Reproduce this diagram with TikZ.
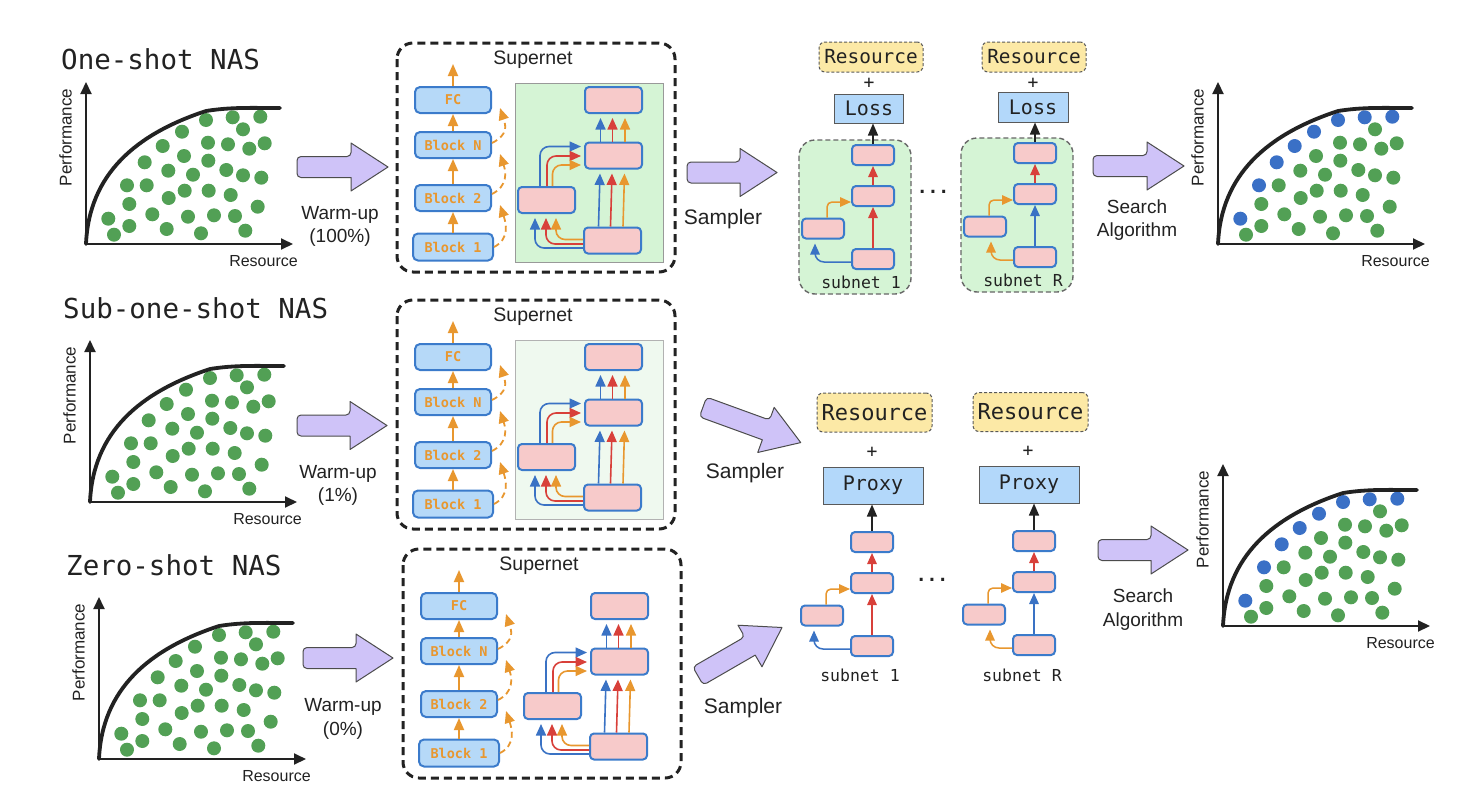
\documentclass[tikz,border=0pt]{standalone}
\usepackage{fontspec}
\setmainfont{Liberation Sans}
\newfontfamily\monofont{DejaVu Sans Mono}
\usetikzlibrary{arrows.meta,calc}
\definecolor{dotgreen}{HTML}{52A055}
\definecolor{dotblue}{HTML}{3A70C6}
\definecolor{arrowpurple}{HTML}{CFC3F8}
\definecolor{blockblue}{HTML}{B6D9F8}
\definecolor{edgeblue}{HTML}{3B7BCB}
\definecolor{orng}{HTML}{E8972F}
\definecolor{redc}{HTML}{D8403A}
\definecolor{bluec}{HTML}{3A72C4}
\definecolor{pinkc}{HTML}{F7CACA}
\definecolor{panelgreen}{HTML}{D5F4D5}
\definecolor{panellight}{HTML}{EFF9EF}
\definecolor{yellowc}{HTML}{FCE9A6}
\definecolor{lossblue}{HTML}{B3D8FA}
\definecolor{ink}{HTML}{222222}
\tikzset{
  axisarr/.style={draw=ink,line width=2pt,-{Triangle[length=12pt,width=11pt]}},
  frontier/.style={draw=ink,line width=3.8pt,line cap=round},
  perf/.style={font=\fontsize{17}{20}\selectfont,text=ink,inner sep=0pt},
  resl/.style={font=\fontsize{16}{19}\selectfont,text=ink,inner sep=0pt},
  titletext/.style={font=\monofont\fontsize{27.5}{32}\selectfont,text=ink,inner sep=0pt},
  bigarr/.style={fill=arrowpurple,draw=black!70,line width=1pt,line join=round},
  captxt/.style={font=\fontsize{19}{23.5}\selectfont,align=center,text=ink,inner sep=0pt},
  samp/.style={font=\fontsize{21}{25}\selectfont,text=ink,inner sep=0pt},
  superbox/.style={draw=ink,line width=3pt,dash pattern=on 8pt off 5pt,rounded corners=16pt},
  suplabel/.style={font=\fontsize{19.5}{23}\selectfont,text=ink,inner sep=0pt},
  blk/.style={draw=edgeblue,fill=blockblue,line width=2pt,rounded corners=5pt,minimum width=76pt,minimum height=26pt,inner sep=0pt,font=\monofont\bfseries\fontsize{13.5}{15}\selectfont,text=orng},
  oarr/.style={draw=orng,line width=1.8pt,-{Triangle[length=12pt,width=10pt]}},
  odash/.style={oarr,dash pattern=on 6pt off 4pt},
  pcell/.style={draw=edgeblue,fill=pinkc,line width=2pt,rounded corners=4pt,minimum width=57pt,minimum height=26pt,inner sep=0pt},
  carr/.style={draw=#1,line width=1.6pt,-{Triangle[length=11.5pt,width=10pt]}},
  scell/.style={pcell,minimum width=42pt,minimum height=20pt},
  sarr/.style={draw=#1,line width=1.5pt,-{Triangle[length=11pt,width=9.5pt]}},
  subpanel/.style={fill=panelgreen,draw=black!60,line width=1.4pt,dash pattern=on 5pt off 3pt,rounded corners=16pt},
  resbox/.style={fill=yellowc,draw=black!65,dash pattern=on 3pt off 2pt,line width=1pt,rounded corners=6pt,inner sep=0pt,minimum width=104pt,minimum height=30pt,font=\monofont\fontsize{19.4}{22}\selectfont,text=ink},
  resbig/.style={resbox,minimum width=115pt,minimum height=39pt,font=\monofont\fontsize{22}{25}\selectfont},
  lossbox/.style={fill=lossblue,draw=black!65,line width=1pt,inner sep=0pt,font=\monofont\fontsize{20}{24}\selectfont,text=ink},
  plustxt/.style={font=\monofont\fontsize{18}{20}\selectfont,inner sep=0pt,text=ink},
  sublabel/.style={font=\monofont\fontsize{16.5}{19}\selectfont,inner sep=0pt,text=ink},
  karr/.style={draw=ink,line width=1.5pt,-{Triangle[length=12pt,width=10pt]}},
  dotstxt/.style={font=\monofont\bfseries\fontsize{18}{20}\selectfont,inner sep=0pt,text=ink}
}
% chart: name, x, y, colour of the front dots
\newcommand\Chart[4]{%
\begin{scope}[shift={(#2,#3)}]
  \coordinate (#1o) at (0,0);
  \coordinate (#1y) at (0,-162);
  \coordinate (#1x) at (207,0);
  \foreach \a/\b in {157/-114.7,122/-101.3,142/-99.7,163.3/-95.3,178.7/-100.7,98/-88,122.3/-83.3,82.3/-73.3,107/-69.3,140.3/-74,157/-68.7,175.3/-66.3,60.7/-58.7,98.7/-53.3,122.7/-53.3,82.7/-46,144.7/-49,43.3/-40,171.7/-37.3,66.3/-29.7,102/-27.3,128/-28.7,149/-28,43.3/-18,80.7/-15,28/-9.3,115/-10.7,159.3/-13.3}
    {\fill[dotgreen] (\a,\b) circle (7pt);}
  \foreach \a/\b in {22.3/-25.3,41/-58.7,58.7/-81.7,76.7/-98,96/-112.3,120/-124,146.7/-126.7,174.3/-127.3}
    {\fill[#4] (\a,\b) circle (7pt);}
  \draw[frontier] (#1o) .. controls (3,-70) and (50,-110) .. (120,-133) .. controls (145,-137) and (165,-136) .. (194,-136);
  \draw[axisarr] (#1o) -- (#1y);
  \draw[axisarr] (#1o) -- (#1x);
  \node[perf,rotate=90] (#1p) at (-20.5,-106.5) {Performance};
  \node[resl] (#1r) at (177.5,17) {Resource};
\end{scope}}
% big block arrow: name, x, y, rotation, length
\newcommand\BigArrow[5]{%
\begin{scope}[shift={(#2,#3)},rotate=#4]
  \coordinate (#1) at (0,0);
  \draw[bigarr] ({#5-37},-10.5) -- ({#5-37},-24) -- (#5,0) -- ({#5-37},24) -- ({#5-37},10.5)
     [rounded corners=4pt] -- (0,10.5) -- (0,-10.5) -- cycle;
\end{scope}}
% supernet: prefix, dx, dy, panel style
\newcommand\SuperNet[4]{%
\begin{scope}[shift={(#2,#3)}]
  \draw[superbox] (397,43) rectangle (675,272);
  \node[suplabel] (#1lab) at (533,60) {Supernet};
  \path[#4] (515,83) rectangle (663,262);
  \node[blk,minimum width=80pt,minimum height=27pt] (#1b1) at (453,247) {Block 1};
  \node[blk] (#1b2) at (453,198) {Block 2};
  \node[blk] (#1bn) at (453,145) {Block N};
  \node[blk] (#1fc) at (453,100) {FC};
  \coordinate (#1out) at (453,64);
  \draw[oarr] (#1b1) -- (#1b2);
  \draw[oarr] (#1b2) -- (#1bn);
  \draw[oarr] (#1bn) -- (#1fc);
  \draw[oarr] (#1fc) -- (#1out);
  \draw[odash] (#1b1.east) .. controls +(16,-8) and +(6,18) .. ($(#1b2.east)+(8,7)$);
  \draw[odash] ($(#1b2.east)+(0,-4)$) .. controls +(16,-8) and +(6,18) .. ($(#1bn.east)+(8,9)$);
  \draw[odash] ($(#1bn.east)+(0,-2)$) .. controls +(16,-8) and +(6,18) .. ($(#1fc.east)+(8,8)$);
  \node[pcell] (#1T) at (613.5,100) {};
  \node[pcell] (#1M) at (613.5,155.5) {};
  \node[pcell] (#1L) at (546.5,200) {};
  \node[pcell] (#1B) at (612.5,240.5) {};
  \foreach \o/\c in {-14/bluec,-2/redc,10.5/orng}{
    \draw[carr=\c] ($(#1B.north)+(\o,0)$) -- ($(#1M.south)+(\o+0.5,4)$);
    \draw[carr=\c] ($(#1M.north)+(\o+1,0)$) -- ($(#1T.south)+(\o+1,4)$);
  }
  \draw[carr=bluec,rounded corners=9pt] ($(#1B.west)+(0,7.5)$) -| ($(#1L.south)+(-11.5,4)$);
  \draw[carr=redc,rounded corners=9pt] ($(#1B.west)+(0,3.5)$) -| ($(#1L.south)+(-0.5,4)$);
  \draw[carr=orng,rounded corners=9pt] ($(#1B.west)+(0,-1)$) -| ($(#1L.south)+(9.5,4)$);
  \draw[carr=bluec,rounded corners=9pt] ($(#1L.north)+(-6.5,0)$) |- ($(#1M.west)+(-3,-9)$);
  \draw[carr=redc,rounded corners=9pt] ($(#1L.north)+(0.5,0)$) |- ($(#1M.west)+(-3,0.5)$);
  \draw[carr=orng,rounded corners=9pt] ($(#1L.north)+(6,0)$) |- ($(#1M.west)+(-3,9.5)$);
\end{scope}}
% subnet: prefix, x, y, B->M colour, B->L colour, B->L x offset, panel style, label, label y
\newcommand\SubNet[9]{%
\begin{scope}[shift={(#2,#3)}]
  \path[#7] (-74,-56) rectangle (38,98);
  \node[scell] (#1T) at (0,-41) {};
  \node[scell] (#1M) at (0,0) {};
  \node[scell] (#1L) at (-50,32.5) {};
  \node[scell] (#1B) at (0,63) {};
  \node[sublabel] (#1lab) at (-12,#9) {#8};
  \draw[sarr=redc] (#1M) -- (#1T);
  \draw[sarr=#4] (#1B) -- (#1M);
  \draw[sarr=orng,rounded corners=5pt] ($(#1L.north)+(4,0)$) |- ($(#1M.west)+(0,6)$);
  \draw[sarr=#5,rounded corners=9pt] ($(#1B.west)+(0,3)$) -| ($(#1L.south)+(#6,4)$);
\end{scope}}
\begin{document}
\begin{tikzpicture}[x=1pt,y=-1pt]
\useasboundingbox (0,0) rectangle (1462,798);
\fill[white] (0,0) rectangle (1462,798);
% titles
\node[titletext,anchor=base west] (t1) at (61,69) {One-shot NAS};
\node[titletext,anchor=base west] (t2) at (63,318) {Sub-one-shot NAS};
\node[titletext,anchor=base west] (t3) at (66,575) {Zero-shot NAS};
% charts
\Chart{ca}{86}{244}{dotgreen}
\Chart{cb}{90}{502}{dotgreen}
\Chart{cc}{99}{759}{dotgreen}
\Chart{cd}{1218}{244}{dotblue}
\Chart{ce}{1223}{626}{dotblue}
% warm-up arrows
\BigArrow{wa}{297}{167}{0}{91}
\BigArrow{wb}{297}{425.5}{0}{90}
\BigArrow{wc}{303}{658}{0}{90}
\node[captxt] (wal) at (340,226.5) {Warm-up\\(100\%)};
\node[captxt] (wbl) at (338,485.5) {Warm-up\\(1\%)};
\node[captxt] (wcl) at (343,719) {Warm-up\\(0\%)};
% supernets
\SuperNet{sa}{0}{0}{fill=panelgreen,draw=black!40,line width=1pt}
\SuperNet{sb}{0}{257}{fill=panellight,draw=black!30,line width=1pt}
\SuperNet{sc}{6}{506}{draw=none}
% sampler arrows
\BigArrow{sma}{687}{172.5}{0}{90}
\BigArrow{smb}{703}{407}{-20}{104}
\BigArrow{smc}{698}{676}{30}{97}
\node[samp] (smal) at (723,219) {Sampler};
\node[samp] (smbl) at (745,473) {Sampler};
\node[samp] (smcl) at (743,708) {Sampler};
% row 1 subnets
\SubNet{aa}{873}{196}{redc}{bluec}{-8}{subpanel}{subnet 1}{86}
\SubNet{ab}{1035}{194}{bluec}{orng}{6}{subpanel}{subnet R}{86}
\node[resbox] (aares) at (871,57) {Resource};
\node[plustxt] (aaplus) at (869,83) {+};
\node[lossbox,minimum width=69pt,minimum height=29pt] (aaloss) at (869,108.5) {Loss};
\node[resbox] (abres) at (1034,57) {Resource};
\node[plustxt] (abplus) at (1033,83) {+};
\node[lossbox,minimum width=70pt,minimum height=30pt] (abloss) at (1033,107) {Loss};
\draw[karr] (aaT.north) -- (aaT.north |- aaloss.south);
\draw[karr] (abT.north) -- (abT.north |- abloss.south);
\node[dotstxt] (adots) at (933,192) {...};
% row 2 subnets
\SubNet{ba}{872}{583}{redc}{bluec}{-8}{draw=none}{subnet 1}{92}
\SubNet{bb}{1034}{582}{bluec}{orng}{6}{draw=none}{subnet R}{93}
\node[resbig] (bares) at (874.5,412.5) {Resource};
\node[plustxt] (baplus) at (872,452) {+};
\node[lossbox,minimum width=100pt,minimum height=37pt] (baprox) at (873,485.5) {Proxy};
\node[resbig] (bbres) at (1030.5,412) {Resource};
\node[plustxt] (bbplus) at (1028,451) {+};
\node[lossbox,minimum width=100pt,minimum height=37pt] (bbprox) at (1029,484.5) {Proxy};
\draw[karr] (baT.north) -- (baT.north |- baprox.south);
\draw[karr] (bbT.north) -- (bbT.north |- bbprox.south);
\node[dotstxt] (bdots) at (932,580) {...};
% search arrows
\BigArrow{sra}{1093}{166}{0}{91}
\BigArrow{src}{1098}{550}{0}{90}
\node[captxt] (sral) at (1137,220) {Search\\Algorithm};
\node[captxt] (srcl) at (1143,609.5) {Search\\Algorithm};
\end{tikzpicture}
\end{document}
